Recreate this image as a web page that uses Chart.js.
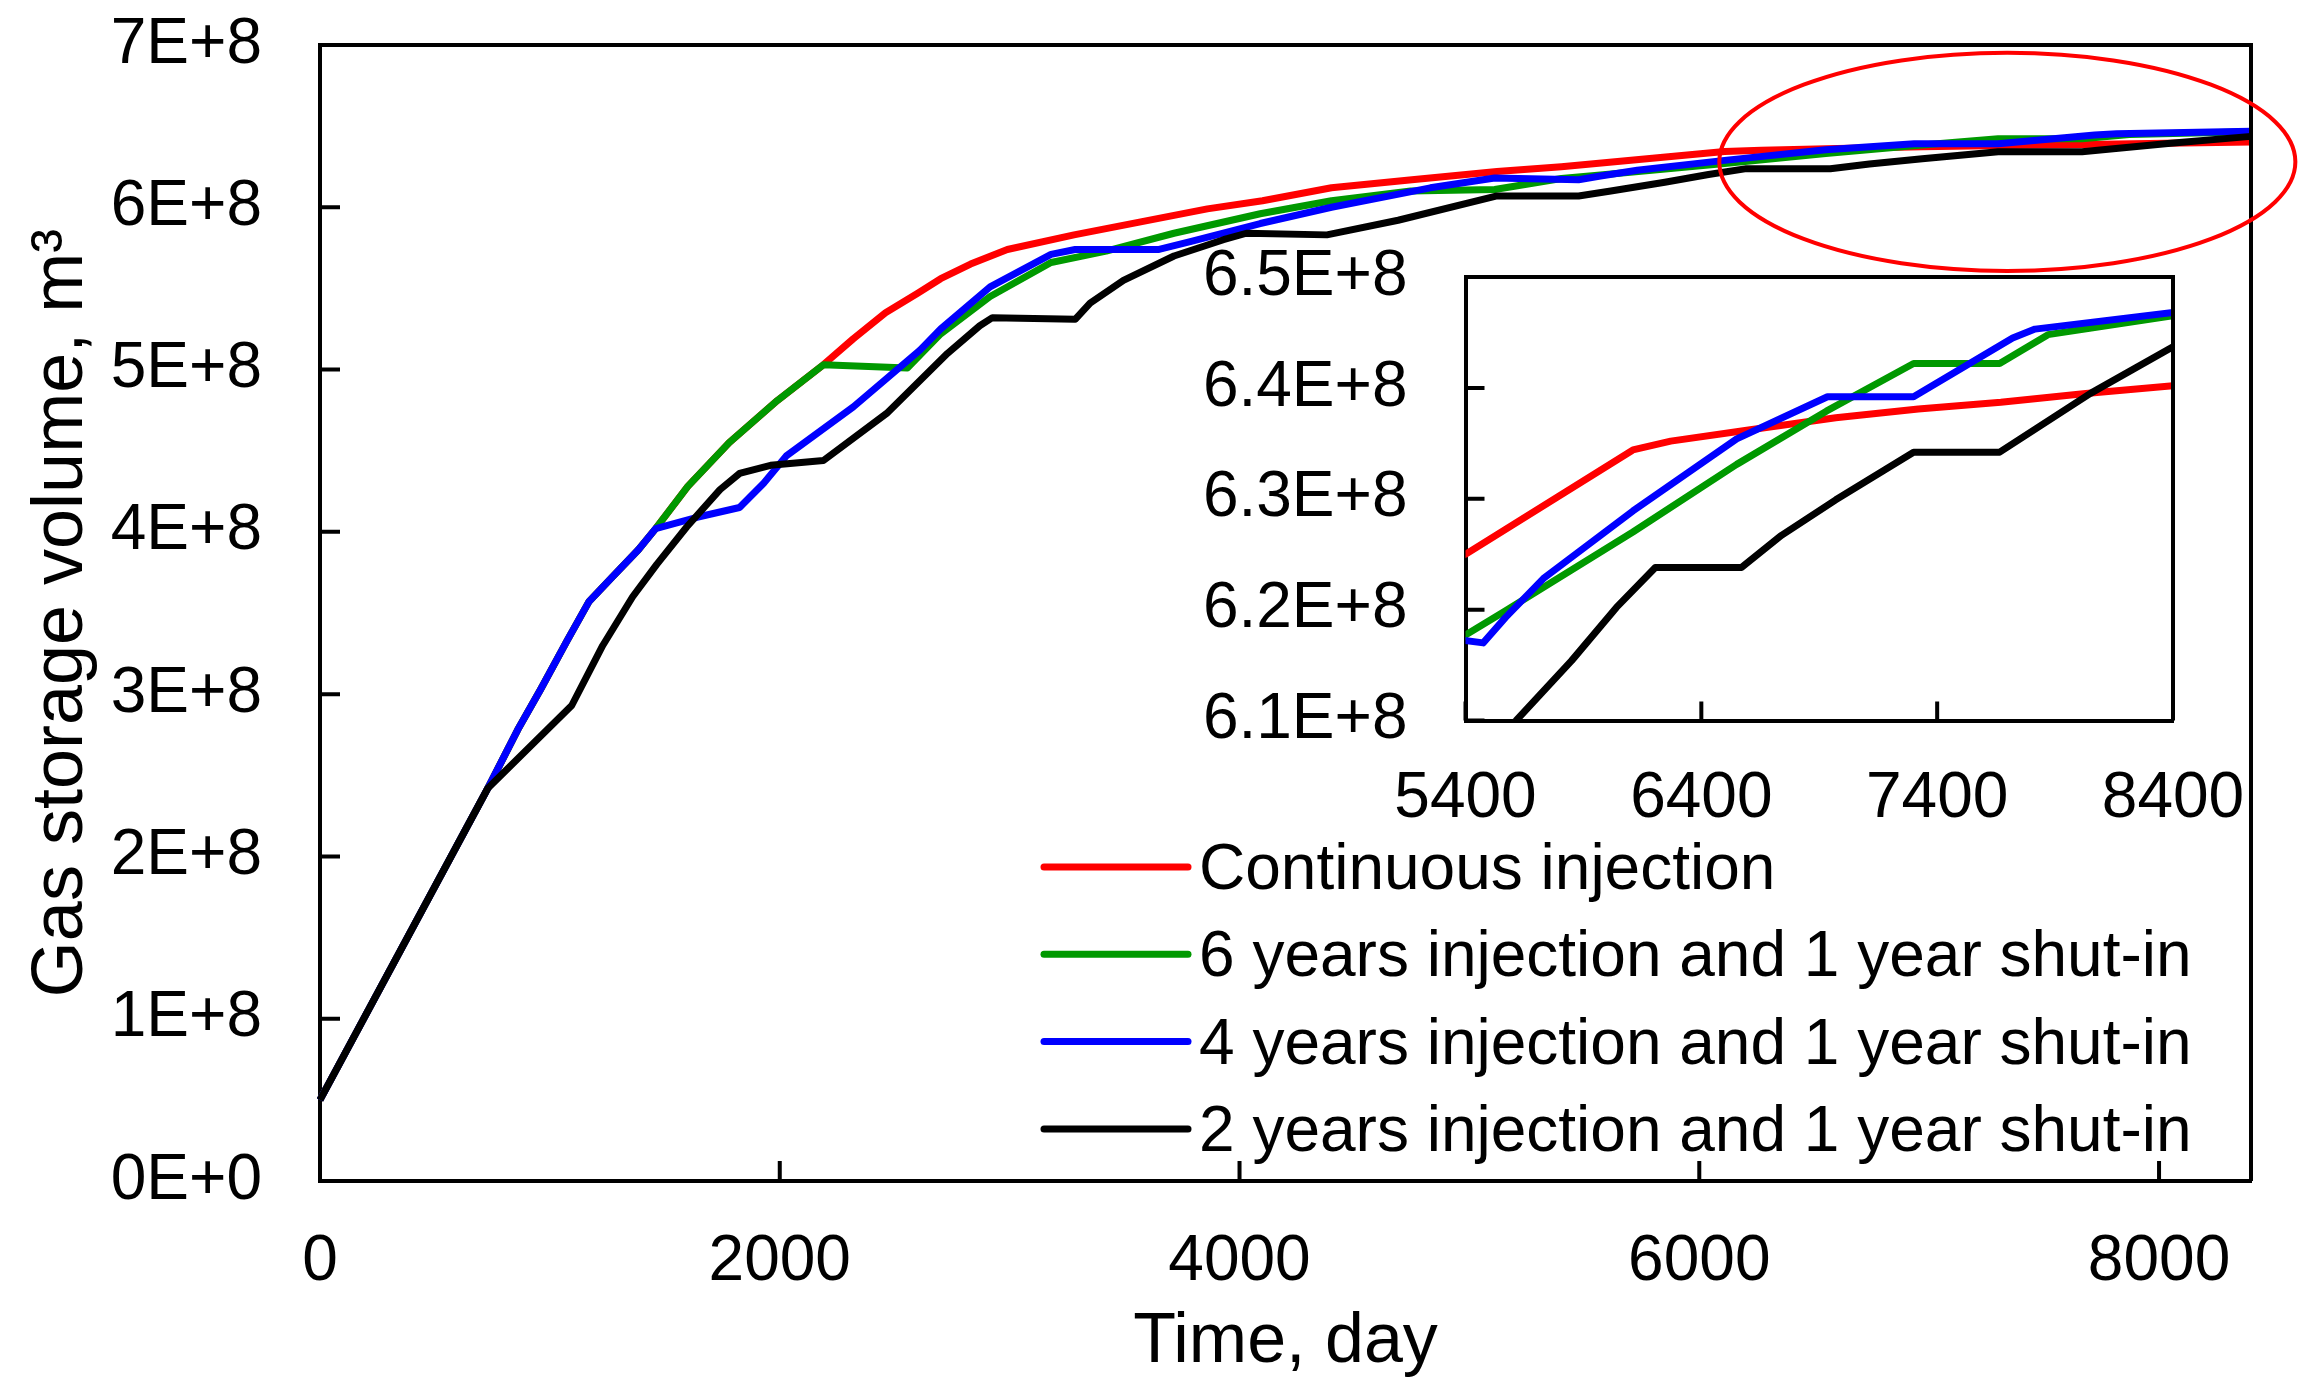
<!DOCTYPE html>
<html>
<head>
<meta charset="utf-8">
<title>Gas storage volume</title>
<script src="https://cdn.jsdelivr.net/npm/chart.js@4.4.0/dist/chart.umd.min.js"></script>
<style>
  body { margin: 0; background: #fff; }
  #wrap { position: relative; width: 2316px; height: 1397px; }
  #main { position: absolute; left: 0; top: 0; }
  #inset { position: absolute; left: 1180px; top: 230px; }
</style>
</head>
<body>
<div id="wrap">
  <canvas id="main" width="2316" height="1397"></canvas>
  <canvas id="inset" width="1090" height="620"></canvas>
</div>
<script>
// time in days, volume in 1E+8 m3
const contDays = [0, 730, 860, 960, 1075, 1170, 1270, 1385, 1460, 1600, 1780, 1990, 2190, 2320, 2460, 2600, 2700, 2830, 2990, 3280, 3570, 3860, 4100, 4400, 4750, 5120, 5400, 6110, 6270, 6600, 6970, 7320, 7670, 8030, 8400];
const contVol = [0.50, 2.42, 2.78, 3.03, 3.33, 3.57, 3.72, 3.89, 4.02, 4.28, 4.55, 4.81, 5.03, 5.19, 5.35, 5.47, 5.56, 5.65, 5.74, 5.83, 5.91, 5.99, 6.04, 6.12, 6.17, 6.22, 6.25, 6.344, 6.352, 6.362, 6.373, 6.381, 6.387, 6.395, 6.402];

const sixDays = [0, 730, 860, 960, 1075, 1170, 1270, 1385, 1460, 1600, 1780, 1990, 2190, 2555, 2700, 2915, 3180, 3420, 3715, 4090, 4400, 4745, 5110, 5400, 5570, 6110, 6550, 6930, 7300, 7665, 7870, 8400];
const sixVol = [0.50, 2.42, 2.78, 3.03, 3.33, 3.57, 3.72, 3.89, 4.02, 4.28, 4.55, 4.81, 5.03, 5.01, 5.22, 5.45, 5.66, 5.73, 5.84, 5.96, 6.04, 6.10, 6.11, 6.177, 6.199, 6.270, 6.331, 6.379, 6.422, 6.422, 6.448, 6.465];

const fourDays = [0, 730, 860, 960, 1075, 1170, 1270, 1385, 1460, 1640, 1825, 1930, 2030, 2320, 2610, 2700, 2915, 3180, 3285, 3650, 3790, 4090, 4400, 4830, 5110, 5475, 5570, 5730, 6110, 6550, 6935, 7300, 7720, 7815, 8400];
const fourVol = [0.50, 2.42, 2.78, 3.03, 3.33, 3.57, 3.72, 3.89, 4.02, 4.09, 4.15, 4.30, 4.47, 4.77, 5.12, 5.25, 5.51, 5.71, 5.74, 5.74, 5.79, 5.90, 6.00, 6.12, 6.18, 6.17, 6.193, 6.228, 6.289, 6.354, 6.392, 6.392, 6.445, 6.453, 6.468];

const twoDays = [0, 730, 1095, 1230, 1360, 1465, 1595, 1740, 1825, 1960, 2190, 2465, 2730, 2870, 2925, 3285, 3350, 3495, 3715, 3930, 4030, 4380, 4690, 5120, 5475, 5615, 5850, 6040, 6205, 6570, 6740, 6970, 7300, 7665, 8050, 8400];
const twoVol = [0.50, 2.42, 2.93, 3.30, 3.60, 3.80, 4.03, 4.26, 4.36, 4.41, 4.44, 4.73, 5.10, 5.27, 5.32, 5.31, 5.41, 5.55, 5.70, 5.80, 5.84, 5.83, 5.92, 6.07, 6.07, 6.10, 6.154, 6.202, 6.238, 6.238, 6.267, 6.299, 6.342, 6.342, 6.395, 6.437];

const seriesNames = ['Continuous injection', '6 years injection and 1 year shut-in', '4 years injection and 1 year shut-in', '2 years injection and 1 year shut-in'];
const seriesColors = ['#ff0000', '#009900', '#0000ff', '#000000'];

const mainXTicks = [0, 2000, 4000, 6000, 8000];
const mainYTicks = [0, 1, 2, 3, 4, 5, 6, 7];
const insetXTicks = [5400, 6400, 7400, 8400];
const insetYTicks = [6.1, 6.2, 6.3, 6.4, 6.5];

// highlighted region (centre and half sizes, in days and 1E+8 m3)
const ring = { day: 7340, vol: 6.28, dDay: 1253, dVol: 0.672 };

Chart.defaults.font.family = "'Liberation Sans', Arial, sans-serif";
Chart.defaults.color = '#000';

function makeSets(clip) {
  const all = [[contDays, contVol], [sixDays, sixVol], [fourDays, fourVol], [twoDays, twoVol]];
  return all.map((s, i) => ({
    label: seriesNames[i],
    data: s[0].map((d, k) => ({ x: d, y: s[1][k] })),
    borderColor: seriesColors[i],
    borderWidth: 7,
    pointRadius: 0,
    tension: 0,
    borderJoinStyle: 'round',
    order: 4 - i,
    clip: clip
  }));
}

// fixed box sizes, no extra padding from labels
function fixBox(w, h) {
  return s => {
    if (w) s.width = w;
    if (h) s.height = h;
    s.paddingTop = 0; s.paddingBottom = 0; s.paddingLeft = 0; s.paddingRight = 0;
  };
}

const framePlugin = {
  id: 'frame',
  afterDraw(chart, args, opts) {
    const { ctx, chartArea: a, scales: { x, y } } = chart;
    ctx.save();
    ctx.strokeStyle = '#000';
    ctx.lineWidth = opts.width;
    ctx.beginPath();
    ctx.moveTo(a.left, a.top);
    ctx.lineTo(a.right, a.top);
    ctx.lineTo(a.right, a.bottom);
    x.ticks.forEach(t => {
      const px = x.getPixelForValue(t.value);
      ctx.moveTo(px, a.bottom);
      ctx.lineTo(px, a.bottom - opts.tick);
    });
    y.ticks.forEach(t => {
      const py = y.getPixelForValue(t.value);
      ctx.moveTo(a.left, py);
      ctx.lineTo(a.left + opts.tick, py);
    });
    ctx.stroke();
    ctx.restore();
  }
};

const boxLegend = {
  id: 'boxLegend',
  afterDraw(chart, args, o) {
    const ctx = chart.ctx;
    ctx.save();
    ctx.font = o.size + "px 'Liberation Sans', Arial, sans-serif";
    ctx.textBaseline = 'alphabetic';
    ctx.textAlign = 'left';
    seriesNames.forEach((name, i) => {
      const yy = o.y + i * o.rowH;
      ctx.strokeStyle = seriesColors[i];
      ctx.lineWidth = 7;
      ctx.lineCap = 'round';
      ctx.beginPath();
      ctx.moveTo(o.x, yy);
      ctx.lineTo(o.x + o.lineLen, yy);
      ctx.stroke();
      ctx.fillStyle = '#000';
      ctx.fillText(name, o.x + o.lineLen + o.gap, yy + 22);
    });
    ctx.restore();
  }
};

const ringPlugin = {
  id: 'ring',
  afterDraw(chart) {
    const { ctx, scales: { x, y } } = chart;
    const cx = x.getPixelForValue(ring.day);
    const cy = y.getPixelForValue(ring.vol);
    const rx = x.getPixelForValue(ring.day + ring.dDay) - cx;
    const ry = cy - y.getPixelForValue(ring.vol + ring.dVol);
    ctx.save();
    ctx.strokeStyle = '#ff0000';
    ctx.lineWidth = 4;
    ctx.beginPath();
    ctx.ellipse(cx, cy, rx, ry, 0, 0, Math.PI * 2);
    ctx.stroke();
    ctx.restore();
  }
};

new Chart(document.getElementById('main'), {
  type: 'line',
  data: { datasets: makeSets(false) },
  options: {
    responsive: false,
    animation: false,
    devicePixelRatio: 1,
    layout: { padding: { top: 45, right: 65, left: 0, bottom: 0 } },
    plugins: {
      legend: { display: false },
      tooltip: { enabled: false },
      frame: { width: 4, tick: 20 },
      boxLegend: { x: 1044, y: 867, lineLen: 144, gap: 11, rowH: 87.3, size: 64 }
    },
    scales: {
      x: {
        type: 'linear', min: 0, max: 8400,
        afterBuildTicks: s => { s.ticks = mainXTicks.map(v => ({ value: v })); },
        afterFit: fixBox(0, 216),
        grid: { display: false, drawTicks: false },
        border: { display: true, width: 4, color: '#000' },
        ticks: { padding: 43, font: { size: 64 }, maxRotation: 0, autoSkip: false, callback: v => String(v) },
        title: { display: true, text: 'Time, day', font: { size: 70 }, padding: { top: 0, bottom: 12 } }
      },
      y: {
        type: 'linear', min: 0, max: 7,
        afterBuildTicks: s => { s.ticks = mainYTicks.map(v => ({ value: v })); },
        afterFit: fixBox(320, 0),
        grid: { display: false, drawTicks: false },
        border: { display: true, width: 4, color: '#000' },
        ticks: { padding: 58, font: { size: 64 }, autoSkip: false, callback: v => v === 0 ? '0E+0' : v + 'E+8' },
        title: { display: true, text: 'Gas storage volume, m³', font: { size: 72 }, padding: { top: 19, bottom: 0 } }
      }
    }
  },
  plugins: [framePlugin, boxLegend, ringPlugin]
});

new Chart(document.getElementById('inset'), {
  type: 'line',
  data: { datasets: makeSets(0) },
  options: {
    responsive: false,
    animation: false,
    devicePixelRatio: 1,
    layout: { padding: { top: 47, right: 97, left: 0, bottom: 0 } },
    plugins: {
      legend: { display: false },
      tooltip: { enabled: false },
      frame: { width: 4, tick: 19 }
    },
    scales: {
      x: {
        type: 'linear', min: 5400, max: 8400,
        afterBuildTicks: s => { s.ticks = insetXTicks.map(v => ({ value: v })); },
        afterFit: fixBox(0, 129.5),
        grid: { display: false, drawTicks: false },
        border: { display: true, width: 4, color: '#000' },
        ticks: { padding: 40, font: { size: 64 }, maxRotation: 0, autoSkip: false, callback: v => String(v) }
      },
      y: {
        type: 'linear', min: 6.1, max: 6.5,
        afterBuildTicks: s => { s.ticks = insetYTicks.map(v => ({ value: v })); },
        afterFit: fixBox(285.5, 0),
        grid: { display: false, drawTicks: false },
        border: { display: true, width: 4, color: '#000' },
        ticks: { padding: 58, font: { size: 64 }, autoSkip: false, callback: v => v.toFixed(1) + 'E+8' }
      }
    }
  },
  plugins: [framePlugin]
});
</script>
</body>
</html>
